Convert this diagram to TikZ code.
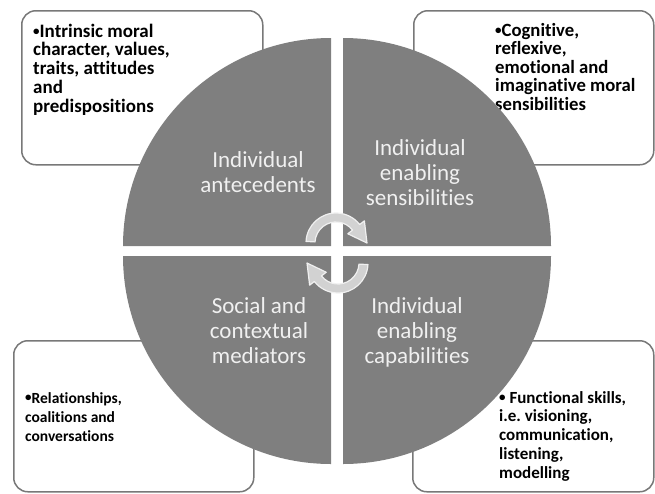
\documentclass[tikz,border=0pt]{standalone}
\usepackage{fontspec}
\setmainfont{Carlito}[Ligatures=NoCommon]
\definecolor{quadgray}{RGB}{127,127,127}
\definecolor{boxgray}{RGB}{120,120,120}
\definecolor{qtext}{RGB}{240,240,240}
\definecolor{arrowfill}{RGB}{210,210,210}
\definecolor{arrowline}{RGB}{240,240,240}
\frenchspacing
\newcommand{\smallbul}{\raisebox{1.2pt}{\fontsize{13}{13}\selectfont •}}
\begin{document}
\begin{tikzpicture}[x=1pt,y=1pt,
  infobox/.style={draw=boxgray, line width=1.5pt, fill=white, rounded corners=14pt, inner sep=0pt, anchor=north west},
  quad/.style={fill=quadgray},
  quadtext/.style={anchor=base, inner sep=0pt, text=qtext, font=\fontsize{23}{25}\selectfont},
  boxtext/.style={anchor=base west, inner sep=0pt},
  cyc/.style={fill=arrowfill, draw=arrowline, line width=1.2pt, line join=round}]
\useasboundingbox (0,0) rectangle (655,-493);
% info boxes
\node[infobox, minimum width=241pt, minimum height=154pt] (tlbox) at (21,-10) {};
\node[infobox, minimum width=240pt, minimum height=154pt] (trbox) at (413,-10) {};
\node[infobox, minimum width=240pt, minimum height=151pt] (blbox) at (13,-340) {};
\node[infobox, minimum width=241pt, minimum height=151pt] (brbox) at (412,-340) {};
% box texts
\node[boxtext, font=\bfseries\fontsize{19}{18.8}\selectfont] (tltext) at (33,-37) {\parbox[t]{220pt}{\raggedright\hangindent=9pt\hangafter=1 \smallbul Intrinsic moral\\character, values,\\traits, attitudes\\and\\predispositions}};
\node[boxtext, font=\bfseries\fontsize{18.7}{18.5}\selectfont] (trtext) at (495,-36) {\parbox[t]{160pt}{\raggedright\hangindent=5pt\hangafter=1 \smallbul Cognitive,\\reflexive,\\emotional and\\imaginative moral\\sensibilities}};
\node[boxtext, font=\bfseries\fontsize{15.5}{19}\selectfont] (bltext) at (25,-403) {\parbox[t]{160pt}{\raggedright\hangindent=8pt\hangafter=1 \smallbul Relationships,\\coalitions and\\conversations}};
\node[boxtext, font=\bfseries\fontsize{17}{18.75}\selectfont] (brtext) at (499,-403) {\parbox[t]{160pt}{\raggedright\hangindent=5pt\hangafter=1 \smallbul\ Functional skills,\\i.e. visioning,\\communication,\\listening,\\modelling}};
% quadrants
\fill[quad] (331,-246) -- (123,-246) arc[start angle=180, end angle=90, radius=208] -- cycle;
\fill[quad] (343,-246) -- (343,-38) arc[start angle=90, end angle=0, radius=208] -- cycle;
\fill[quad] (331,-256) -- (331,-464) arc[start angle=270, end angle=180, radius=208] -- cycle;
\fill[quad] (343,-256) -- (551,-256) arc[start angle=0, end angle=-90, radius=208] -- cycle;
% quadrant texts
\node[quadtext] (tlq) at (258,-167) {\parbox[t]{150pt}{\centering Individual\\antecedents}};
\node[quadtext] (trq) at (420,-155) {\parbox[t]{150pt}{\centering Individual\\enabling\\sensibilities}};
\node[quadtext] (blq) at (259,-313) {\parbox[t]{150pt}{\centering Social and\\contextual\\mediators}};
\node[quadtext] (brq) at (417,-313) {\parbox[t]{150pt}{\centering Individual\\enabling\\capabilities}};
% cycle arrows
\begin{scope}[shift={(336,-243)}]
\draw[cyc] (177:30) arc[start angle=177, end angle=38, radius=30] -- (38:36) -- (0:31) -- (38:15) -- (38:21) arc[start angle=38, end angle=177, radius=21] -- cycle;
\end{scope}
\begin{scope}[shift={(338,-263)}, rotate=180]
\draw[cyc] (177:30) arc[start angle=177, end angle=38, radius=30] -- (38:36) -- (0:31) -- (38:15) -- (38:21) arc[start angle=38, end angle=177, radius=21] -- cycle;
\end{scope}
\end{tikzpicture}
\end{document}
